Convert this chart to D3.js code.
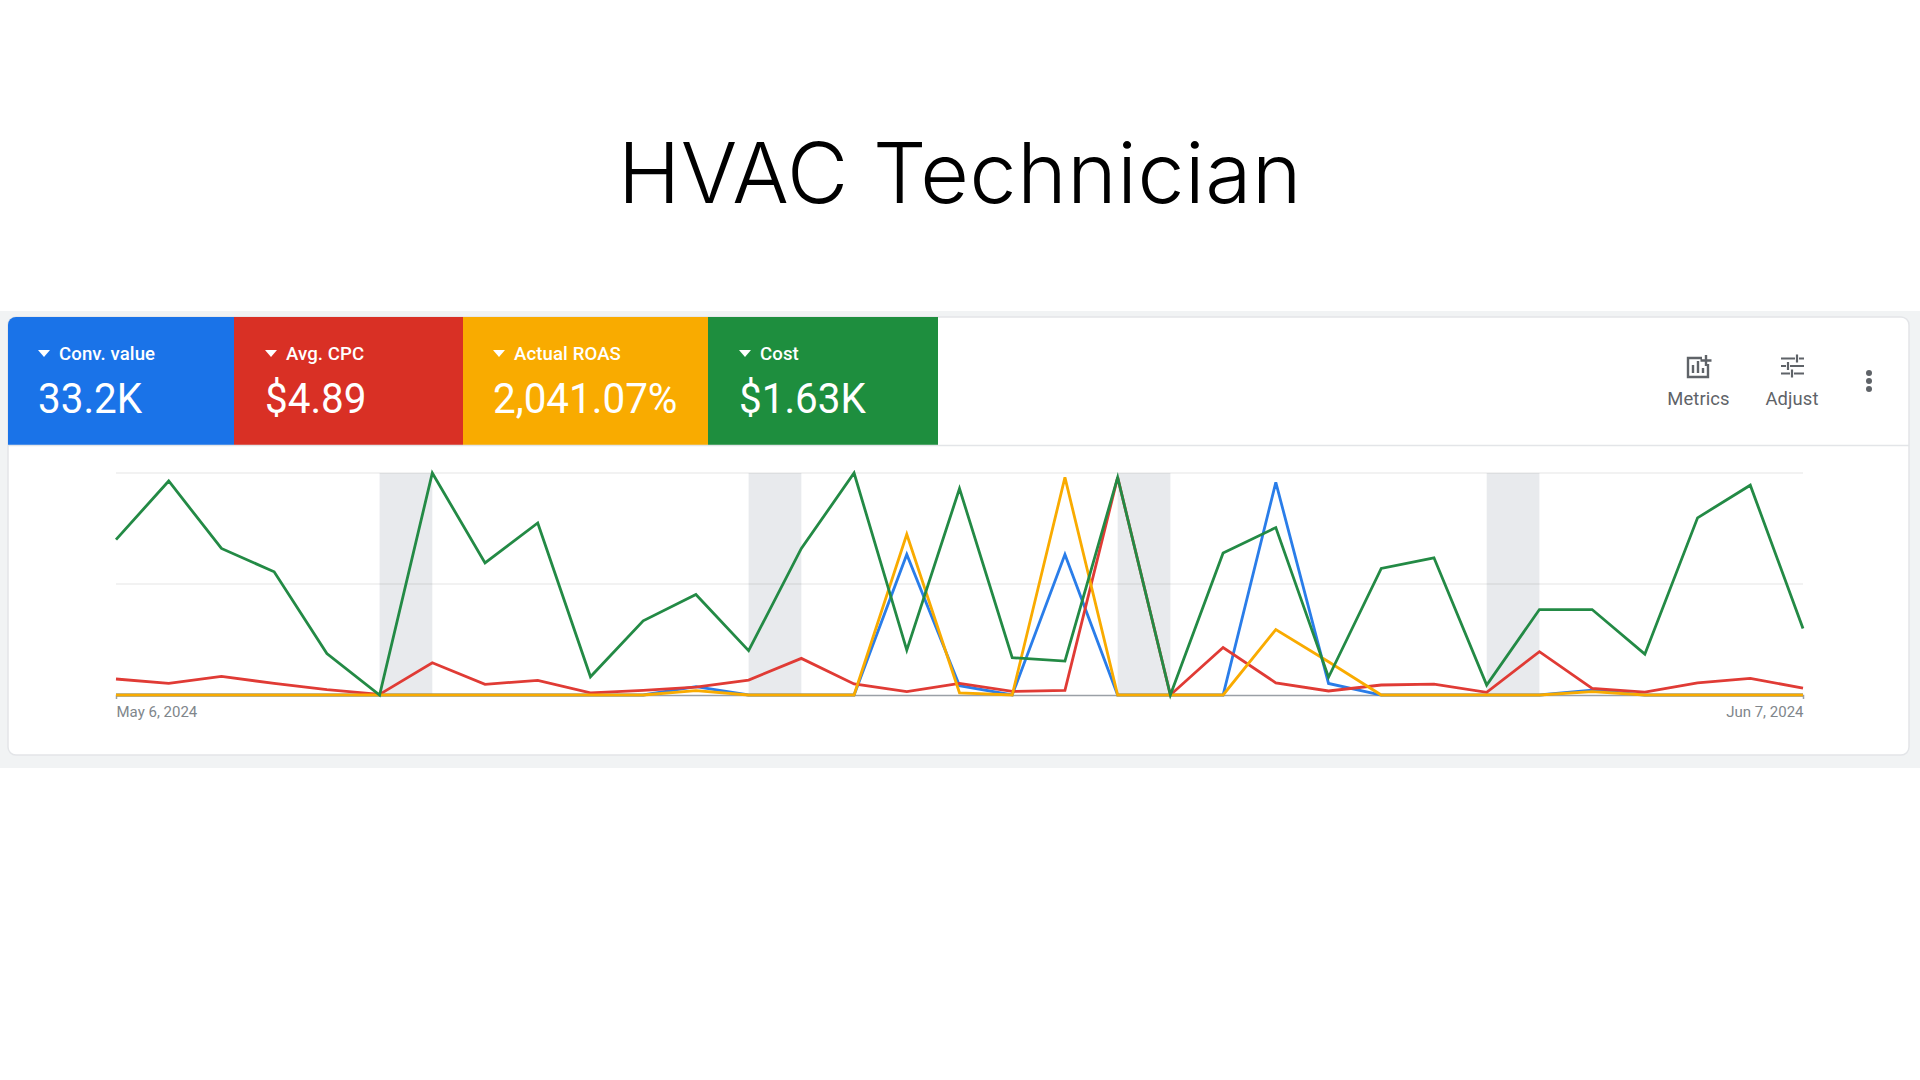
<!DOCTYPE html>
<html>
<head>
<meta charset="utf-8" />
<script src="https://cdn.jsdelivr.net/npm/d3@7/dist/d3.min.js"></script>
<style>
	html, body { margin: 0; padding: 0; background: #fff; }
	svg { display: block; }
	text { font-family: Roboto, sans-serif; }
</style>
</head>
<body>
<svg id="chart" width="1920" height="1080"></svg>
<script>
// metric tiles
const metricNames = ["Conv. value", "Avg. CPC", "Actual ROAS", "Cost"]
const metricValues = ["33.2K", "$4.89", "2,041.07%", "$1.63K"]
const metricColors = ["#1a73e8", "#d93025", "#f9ab00", "#1e8e3e"]

const tickLabels = ["May 6, 2024", "Jun 7, 2024"]
const weekendStarts = [5, 12, 19, 26]
const convValue = [0, 0, 0, 0, 0, 0, 0, 0, 0, 0, 0, 3.8, 0, 0, 0, 63.3, 4.2, 0, 63.3, 0, 0, 0, 95.8, 5.2, 0, 0, 0, 0, 2.2, 0, 0, 0, 0]
const avgCpc = [7.2, 5.2, 8.4, 5.2, 2.4, 0.3, 14.5, 4.8, 6.6, 1, 2.1, 3.5, 6.7, 16.5, 5, 1.5, 5.2, 1.6, 2.1, 98, 0, 21.4, 5.5, 1.8, 4.5, 4.9, 1.2, 19.5, 3, 1.3, 5.5, 7.5, 3.1]
const actualRoas = [0, 0, 0, 0, 0, 0, 0, 0, 0, 0, 0, 2, 0, 0, 0, 72.4, 1, 0, 98, 0, 0, 0, 29.5, 15, 0, 0, 0, 0, 1.5, 0, 0, 0, 0]
const cost = [70, 96.4, 66, 55.5, 18.7, 0, 100, 59.5, 77.5, 8.2, 33.4, 45.3, 20, 66, 100, 20.2, 93, 16.8, 15.3, 98, 0, 64, 75.4, 8, 57, 61.8, 4.5, 38.5, 38.5, 18.4, 79.8, 94.5, 30]

const svg = d3.select("#chart")

// title
svg.append("text")
	.attr("x", 960)
	.attr("y", 203)
	.attr("text-anchor", "middle")
	.style("font-family", "Inter")
	.style("font-size", "84px")
	.style("font-weight", 300)
	.style("letter-spacing", "0.6px")
	.attr("fill", "#000")
	.text("HVAC Technician")

// card
svg.append("rect").attr("x", 0).attr("y", 311).attr("width", 1920).attr("height", 457).attr("fill", "#f1f3f4")
svg.append("rect")
	.attr("x", 8)
	.attr("y", 317)
	.attr("width", 1901)
	.attr("height", 438)
	.attr("rx", 8)
	.attr("fill", "#fff")
	.attr("stroke", "#e3e5e8")
	.attr("stroke-width", 1.5)

// tiles
const tileEdges = [8, 234, 463, 708, 938]
const tilePadding = [30, 31, 30, 31]
const tileTop = 317
const tileBottom = 445
const clip = svg.append("defs").append("clipPath").attr("id", "card-clip")
clip.append("rect").attr("x", 8).attr("y", 317).attr("width", 1901).attr("height", 438).attr("rx", 8)

const tiles = svg.append("g").attr("clip-path", "url(#card-clip)")
	.selectAll("g")
	.data(metricNames)
	.join("g")
	.attr("transform", (d, i) => `translate(${tileEdges[i]}, ${tileTop})`)

tiles.append("rect")
	.attr("width", (d, i) => tileEdges[i + 1] - tileEdges[i])
	.attr("height", tileBottom - tileTop)
	.attr("fill", (d, i) => metricColors[i])

tiles.append("path")
	.attr("d", (d, i) => `M${tilePadding[i]} 33 h12 l-6 7 z`)
	.attr("fill", "#fff")

tiles.append("text")
	.attr("x", (d, i) => tilePadding[i] + 21)
	.attr("y", 43)
	.attr("fill", "#fff")
	.style("font-size", "18.6px")
	.style("font-weight", 500)
	.style("letter-spacing", "0.1px")
	.text((d) => d)

// the screenshot is squeezed a little sideways, so the big numbers are too
tiles.append("text")
	.attr("transform", (d, i) => `translate(${tilePadding[i]}, 96) scale(0.94, 1)`)
	.attr("fill", "#fff")
	.style("font-size", "43px")
	.text((d, i) => metricValues[i])

svg.append("line")
	.attr("x1", 8).attr("x2", 1909)
	.attr("y1", 445.5).attr("y2", 445.5)
	.attr("stroke", "#e3e5e8")
	.attr("stroke-width", 1.5)

// toolbar
const iconColor = "#5f6368"
const toolbar = svg.append("g")
toolbar.append("path")
	.attr("d", "M1702 358 h-14 v19 h20 v-13 M1693 373 v-8 M1698 373 v-12 M1703 373 v-5 M1706 355 v11 M1700.5 360.5 h11")
	.attr("fill", "none")
	.attr("stroke", iconColor)
	.attr("stroke-width", 2.4)
toolbar.append("path")
	.attr("d", "M1781 358.5 h14 M1799 358.5 h5 M1797 354.5 v8 M1781 366 h5 M1790 366 h14 M1788 362 v8 M1781 373.5 h9 M1794 373.5 h10 M1792 369.5 v8")
	.attr("fill", "none")
	.attr("stroke", iconColor)
	.attr("stroke-width", 2.2)
toolbar.selectAll("circle")
	.data([373, 381, 389])
	.join("circle")
	.attr("cx", 1869)
	.attr("cy", (d) => d)
	.attr("r", 3)
	.attr("fill", iconColor)
toolbar.selectAll("text")
	.data([["Metrics", 1698.5], ["Adjust", 1792]])
	.join("text")
	.attr("x", (d) => d[1])
	.attr("y", 405)
	.attr("text-anchor", "middle")
	.attr("fill", iconColor)
	.style("font-size", "18.4px")
	.style("letter-spacing", "0.1px")
	.text((d) => d[0])

// scales
const x = d3.scaleLinear().domain([0, cost.length - 1]).range([116, 1803])
const y = d3.scaleLinear().domain([0, 100]).range([695, 473])

// weekends
svg.append("g")
	.selectAll("rect")
	.data(weekendStarts)
	.join("rect")
	.attr("x", (d) => x(d))
	.attr("y", y(100))
	.attr("width", (d) => x(d + 1) - x(d))
	.attr("height", y(0) - y(100))
	.attr("fill", "#e8eaed")

// grid
svg.append("g")
	.selectAll("line")
	.data([50, 100])
	.join("line")
	.attr("x1", x(0))
	.attr("x2", x(32))
	.attr("y1", (d) => y(d))
	.attr("y2", (d) => y(d))
	.attr("stroke", "#000")
	.attr("stroke-opacity", 0.07)
	.attr("stroke-width", 1.5)

// axis
const axis = svg.append("g")
	.attr("transform", `translate(0, ${y(0)})`)
	.call(d3.axisBottom(x)
		.tickValues([0, cost.length - 1])
		.tickFormat((d, i) => tickLabels[i])
		.tickSize(4)
		.tickPadding(7))
axis.select(".domain").attr("stroke", "#9aa0a6").attr("stroke-width", 1.5)
axis.selectAll(".tick line").attr("stroke", "#9aa0a6")
axis.selectAll(".tick text")
	.attr("text-anchor", (d, i) => (i ? "end" : "start"))
	.attr("fill", "#80868b")
	.style("font-family", "Roboto")
	.style("font-size", "15px")

// lines
const seriesList = [
	[convValue, "#2a7de9"],
	[avgCpc, "#e03b35"],
	[actualRoas, "#f9ab00"],
	[cost, "#238a45"],
]
const line = d3.line().x((d, i) => x(i)).y((d) => y(d))
svg.append("g")
	.selectAll("path")
	.data(seriesList)
	.join("path")
	.attr("d", (d) => line(d[0]))
	.attr("fill", "none")
	.attr("stroke", (d) => d[1])
	.attr("stroke-width", 2.8)
	.attr("stroke-linejoin", "miter")
</script>
</body>
</html>
